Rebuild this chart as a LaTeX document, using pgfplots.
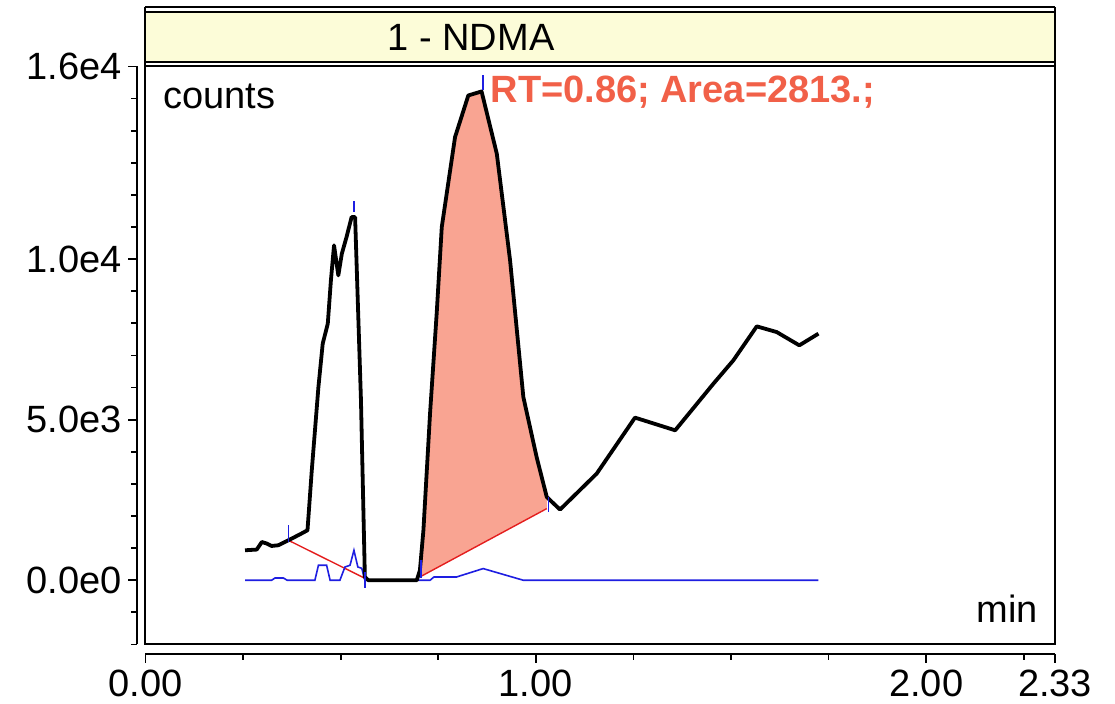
\documentclass[border=0pt]{standalone}
\usepackage{fontspec}
\setmainfont{Liberation Sans}
\usepackage{pgfplots}
\pgfplotsset{compat=1.18}
\definecolor{titlebg}{RGB}{252,252,216}
\definecolor{peakfill}{RGB}{249,164,146}
\definecolor{rtred}{RGB}{241,96,72}
\definecolor{trblue}{RGB}{30,30,225}
\definecolor{basered}{RGB}{228,30,30}
\begin{document}
\begin{tikzpicture}
\useasboundingbox (-72.75pt,-29.75pt) rectangle (484.75pt,322.25pt);
\begin{axis}[
  name=ax, at={(0,0)}, anchor=south west,
  scale only axis, width=454.75pt, height=289pt,
  xmin=0, xmax=2.33, ymin=-2000, ymax=16000,
  axis lines=left,
  axis x line shift=4.75pt, axis y line shift=4pt,
  axis line style={-, line width=1pt},
  every tick/.style={black, line width=0.9pt},
  tick align=outside,
  major tick length=4.5pt, minor tick length=3pt,
  xtick={0,1,2,2.33}, xticklabels={0.00,1.00,2.00,2.33},
  minor xtick={0.25,0.5,0.75,1.25,1.5,1.75,2.25},
  ytick={0,5000,10000,16000}, yticklabels={0.0e0,5.0e3,1.0e4,1.6e4},
  minor ytick={-2000,-1000,1000,2000,3000,4000,6000,7000,8000,9000,11000,12000,13000,14000,15000},
  tick label style={font=\fontsize{19}{22}\selectfont},
  clip=false,
]
% integrated peak area
\addplot[draw=none, fill=peakfill] coordinates {
  (0.703,103) (0.703,311) (0.712,1557) (0.729,5199) (0.746,8312) (0.759,10998)
  (0.793,13800) (0.827,15098) (0.861,15223) (0.900,13283) (0.934,9962)
  (0.968,5706) (1.002,3838) (1.028,2593) (1.028,2232)
} --cycle;
% baselines
\addplot[basered, line width=0.7pt] coordinates {(0.366,1245) (0.562,62)};
\addplot[basered, line width=0.7pt] coordinates {(0.703,103) (1.028,2232)};
% second trace
\addplot[trblue, line width=0.8pt] coordinates {
  (0.255,0) (0.323,0) (0.332,72) (0.353,72) (0.363,0) (0.434,0) (0.443,467)
  (0.464,467) (0.473,0) (0.498,0) (0.511,414) (0.524,467) (0.534,934)
  (0.544,414) (0.554,374) (0.562,0) (0.729,0) (0.739,103) (0.797,103)
  (0.865,364) (0.968,0) (1.724,0)
};
% main trace
\addplot[black, line width=1.9pt, line join=round] coordinates {
  (0.255,934) (0.285,956) (0.298,1192) (0.311,1142) (0.323,1068) (0.340,1090)
  (0.366,1245) (0.396,1432) (0.415,1557) (0.426,3424) (0.443,6017) (0.454,7368)
  (0.467,7991) (0.475,9339) (0.483,10429) (0.494,9495) (0.503,10170) (0.515,10687)
  (0.528,11310) (0.537,11310) (0.552,5603) (0.562,103) (0.571,0) (0.695,0)
  (0.703,311) (0.712,1557) (0.729,5199) (0.746,8312) (0.759,10998) (0.793,13800)
  (0.827,15098) (0.861,15223) (0.900,13283) (0.934,9962) (0.968,5706) (1.002,3838)
  (1.028,2593) (1.062,2201) (1.156,3322) (1.254,5065) (1.357,4670) (1.455,6123)
  (1.506,6849) (1.566,7907) (1.617,7730) (1.675,7316) (1.724,7680)
};
% peak markers
\addplot[trblue, line width=0.8pt] coordinates {(0.366,1712) (0.366,1192)};
\addplot[trblue, line width=0.8pt] coordinates {(0.534,11808) (0.534,11465)};
\addplot[trblue, line width=0.8pt] coordinates {(0.562,258) (0.562,-227)};
\addplot[trblue, line width=0.8pt] coordinates {(0.706,623) (0.706,62)};
\addplot[trblue, line width=0.8pt] coordinates {(0.865,15720) (0.865,15254)};
\addplot[trblue, line width=0.8pt] coordinates {(1.032,2593) (1.032,2126)};
\node[anchor=base west, text=rtred, font=\fontsize{19}{22}\selectfont\bfseries, inner sep=0pt]
  at (axis cs:0.883,14890) {RT=0.86; Area=2813.;};
\end{axis}
% frame and title bar
\draw[line width=1pt] (ax.south west) rectangle (ax.north east);
\fill[titlebg] ([yshift=2pt]ax.north west) rectangle ([yshift=27pt]ax.north east);
\draw[line width=1pt] ([yshift=2pt]ax.north west) -- ([yshift=2pt]ax.north east);
\draw[line width=1pt] ([yshift=27pt]ax.north west) -- ([yshift=27pt]ax.north east);
\draw[line width=1pt] ([yshift=29.5pt]ax.north west) -- ([yshift=29.5pt]ax.north east);
\draw[line width=1pt] (ax.north west) -- ([yshift=29.5pt]ax.north west);
\draw[line width=1pt] (ax.north east) -- ([yshift=29.5pt]ax.north east);
\node[font=\fontsize{19}{22}\selectfont, inner sep=0pt] at ([xshift=162.75pt,yshift=14.5pt]ax.north west) {1 - NDMA};
\node[anchor=base west, font=\fontsize{19}{22}\selectfont, inner sep=0pt] at ([xshift=8.75pt,yshift=-21pt]ax.north west) {counts};
\node[anchor=base east, font=\fontsize{19}{22}\selectfont, inner sep=0pt] at ([xshift=-8.5pt,yshift=10.75pt]ax.south east) {min};
\end{tikzpicture}
\end{document}
